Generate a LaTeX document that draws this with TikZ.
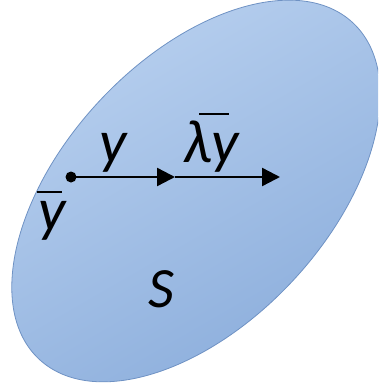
\documentclass[tikz,border=0pt]{standalone}
\usepackage{fontspec}
\setmainfont{Carlito}
\usetikzlibrary{arrows.meta}
\definecolor{blobLight}{HTML}{B8D0EF}
\definecolor{blobDark}{HTML}{8CAEDC}
\definecolor{blobEdge}{HTML}{6F92C4}
\tikzset{
  lbl/.style={inner sep=0pt, anchor=base, font=\fontsize{61}{66}\selectfont\itshape},
  vecarrow/.style={line width=2.4pt, -{Triangle[length=18pt,width=18pt]}},
}
\begin{document}
\begin{tikzpicture}[x=1pt,y=-1pt]
\useasboundingbox (0,0) rectangle (378,385);
\clip (0,0) rectangle (378,385);
\fill[white] (0,0) rectangle (378,385);
\path[rotate around={47:(196,191)}, top color=blobLight, bottom color=blobDark, shading angle=30, draw=blobEdge, line width=0.8pt]
  (196,191) ellipse [x radius=230pt, y radius=132pt];
\node[circle, fill=black, inner sep=0pt, minimum size=11pt] (p) at (71,177) {};
\coordinate (m) at (175,177);
\coordinate (e) at (280,177);
\draw[vecarrow] (p.center) -- (m);
\draw[vecarrow] (m) -- (e);
\node[lbl] (ly) at (113,162) {y};
\node[lbl] (lly) at (211,162) {λ\rlap{\hspace{-12pt}\raisebox{47pt}{\rule{30pt}{1.8pt}}}y};
\node[lbl] (ybar) at (52,230) {\rlap{\hspace{-1pt}\raisebox{37pt}{\rule{25pt}{1.8pt}}}y};
\node[lbl, font=\fontsize{57}{62}\selectfont\itshape] (s) at (161,307) {S};
\end{tikzpicture}
\end{document}
